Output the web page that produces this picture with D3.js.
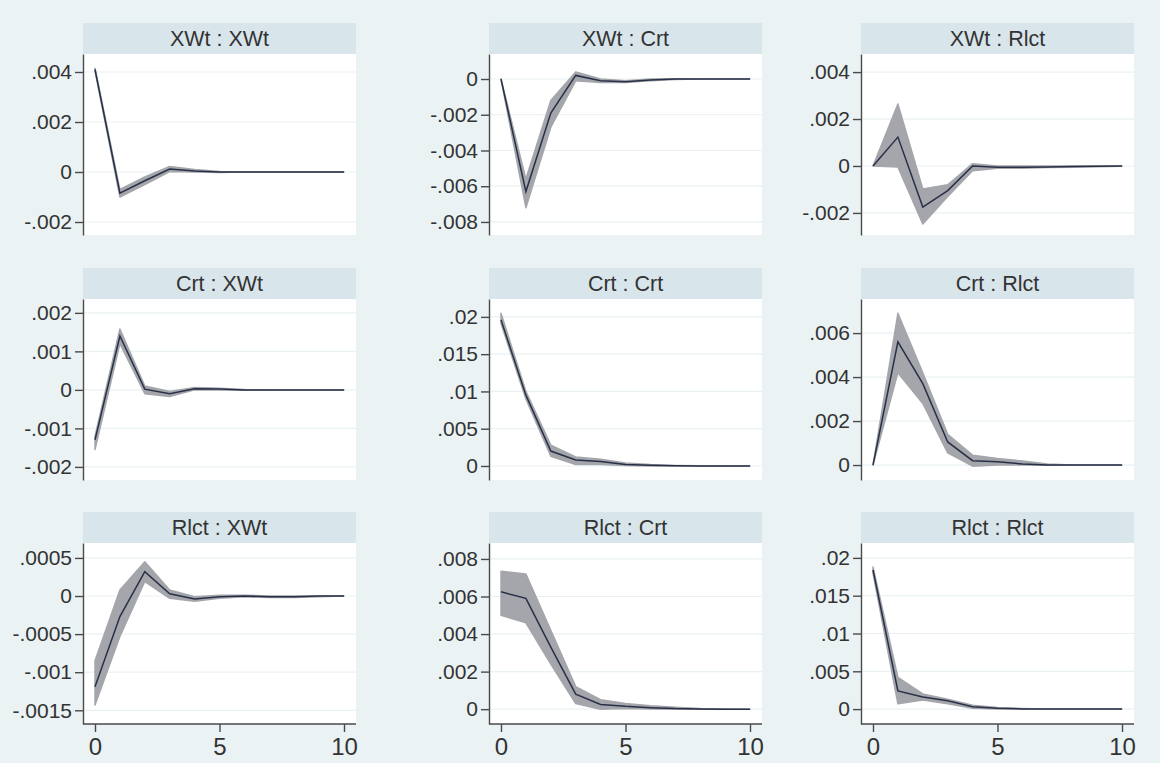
<!DOCTYPE html>
<meta charset="utf-8">
<style>
html, body {
  margin: 0;
  padding: 0;
  background: #eaf2f4; }
body {
  font-family: "Liberation Sans", Arial, Helvetica, sans-serif;
  color: #333; }

#irf {
    display: block;
    width: 1160px;
    height: 763px;
  }

  .axis text {
    font-size: 21px;
    fill: #333;
  }
  .axis path, .axis line {
    stroke: #4a4a4a;
    stroke-width: 1.4;
  }
</style>
<svg id="irf"></svg>

<script src="https://d3js.org/d3.v7.min.js"></script>
<script>
// ********** DATA **********
var steps = [0, 1, 2, 3, 4, 5, 6, 7, 8, 9, 10];
var panelTitles = ["XWt : XWt", "XWt : Crt", "XWt : Rlct",
                   "Crt : XWt", "Crt : Crt", "Crt : Rlct",
                   "Rlct : XWt", "Rlct : Crt", "Rlct : Rlct"];
var xTicks = [0, 5, 10];

// orthogonalised irf, lower and upper 95% bound, one triple per panel
var irf_XWt_XWt = [0.0041, -0.00085, -0.00035, 0.00012, 0.00004, 0, 0, 0, 0, 0, 0];
var lo_XWt_XWt  = [0.00405, -0.0010, -0.0005, 0.00002, 0, -0.00002, 0, 0, 0, 0, 0];
var hi_XWt_XWt  = [0.00415, -0.0007, -0.0002, 0.00022, 0.0001, 0.00002, 0, 0, 0, 0, 0];

var irf_XWt_Crt = [0, -0.0063, -0.0019, 0.0002, -0.0001, -0.00015, -0.00005, 0, 0, 0, 0];
var lo_XWt_Crt  = [0, -0.0072, -0.0027, -0.0001, -0.0002, -0.0002, -0.0001, -0.00003, 0, 0, 0];
var hi_XWt_Crt  = [0, -0.0056, -0.0012, 0.0004, 0, -0.0001, 0, 0.00002, 0, 0, 0];

var irf_XWt_Rlct = [0, 0.00123, -0.00175, -0.00105, 0, -0.00005, -0.00005, -0.00004, -0.00002, -0.00001, 0];
var lo_XWt_Rlct  = [0, -0.00004, -0.00247, -0.0013, -0.0002, -0.0001, -0.0001, -0.00007, -0.00005, -0.00003, -0.00001];
var hi_XWt_Rlct  = [0, 0.00264, -0.00098, -0.0008, 0.0001, 0, 0, 0, 0, 0, 0];

var irf_Crt_XWt = [-0.0013, 0.0014, 0.00002, -0.0001, 0.00003, 0.00002, 0, 0, 0, 0, 0];
var lo_Crt_XWt  = [-0.00155, 0.0012, -0.0001, -0.00017, 0, 0, -0.00001, 0, 0, 0, 0];
var hi_Crt_XWt  = [-0.0012, 0.00158, 0.0001, -0.00004, 0.00006, 0.00004, 0.00001, 0, 0, 0, 0];

var irf_Crt_Crt = [0.0196, 0.0095, 0.0020, 0.0008, 0.0006, 0.0002, 0.0001, 0.00003, 0, 0, 0];
var lo_Crt_Crt  = [0.0191, 0.0090, 0.0013, 0.0002, 0.0002, 0.00005, 0, 0, 0, 0, 0];
var hi_Crt_Crt  = [0.0205, 0.0100, 0.0028, 0.0012, 0.0009, 0.0004, 0.0002, 0.00008, 0.00002, 0, 0];

var irf_Crt_Rlct = [0, 0.0056, 0.0037, 0.00105, 0.0002, 0.00015, 0.00005, 0, 0, 0, 0];
var lo_Crt_Rlct  = [0, 0.0042, 0.0028, 0.00055, -0.00005, 0, 0, -0.00001, 0, 0, 0];
var hi_Crt_Rlct  = [0, 0.0069, 0.0042, 0.0014, 0.00045, 0.0003, 0.00018, 0.00005, 0, 0, 0];

var irf_Rlct_XWt = [-0.00119, -0.00027, 0.00032, 0.00003, -0.00004, -0.00001, 0, -0.00001, -0.00001, 0, 0];
var lo_Rlct_XWt  = [-0.00143, -0.00053, 0.00019, -0.00003, -0.00007, -0.00003, -0.00001, -0.00002, -0.00002, -0.00001, 0];
var hi_Rlct_XWt  = [-0.00085, 0.00008, 0.00045, 0.00008, -0.00001, 0.00001, 0.00001, 0, 0, 0, 0];

var irf_Rlct_Crt = [0.00625, 0.0059, 0.0033, 0.0008, 0.00025, 0.00015, 0.00008, 0.00003, 0.00001, 0, 0];
var lo_Rlct_Crt  = [0.0050, 0.0046, 0.0024, 0.0003, 0, 0.00003, 0.00001, 0, 0, 0, 0];
var hi_Rlct_Crt  = [0.00735, 0.0072, 0.0042, 0.0012, 0.0005, 0.0003, 0.00018, 0.0001, 0.00004, 0.00001, 0];

var irf_Rlct_Rlct = [0.0184, 0.0024, 0.0016, 0.0011, 0.0003, 0.0001, 0.00003, 0, 0, 0, 0];
var lo_Rlct_Rlct  = [0.0180, 0.0007, 0.0012, 0.0007, 0.0001, 0, 0, 0, 0, 0, 0];
var hi_Rlct_Rlct  = [0.0188, 0.0042, 0.0020, 0.0013, 0.0005, 0.0002, 0.00008, 0.00002, 0, 0, 0];

// y tick labels and axis range of each panel
var yTicks = [
  [-0.002, 0, 0.002, 0.004],
  [-0.008, -0.006, -0.004, -0.002, 0],
  [-0.002, 0, 0.002, 0.004],
  [-0.002, -0.001, 0, 0.001, 0.002],
  [0, 0.005, 0.01, 0.015, 0.02],
  [0, 0.002, 0.004, 0.006],
  [-0.0015, -0.001, -0.0005, 0, 0.0005],
  [0, 0.002, 0.004, 0.006, 0.008],
  [0, 0.005, 0.01, 0.015, 0.02]
];
var yRanges = [
  [-0.00252, 0.00472], [-0.00873, 0.0014], [-0.00294, 0.00477],
  [-0.00234, 0.00236], [-0.00188, 0.0224], [-0.00068, 0.00755],
  [-0.00168, 0.000696], [-0.00079, 0.00885], [-0.00197, 0.02197]
];

var irfs = [irf_XWt_XWt, irf_XWt_Crt, irf_XWt_Rlct, irf_Crt_XWt, irf_Crt_Crt, irf_Crt_Rlct, irf_Rlct_XWt, irf_Rlct_Crt, irf_Rlct_Rlct];
var lows = [lo_XWt_XWt, lo_XWt_Crt, lo_XWt_Rlct, lo_Crt_XWt, lo_Crt_Crt, lo_Crt_Rlct, lo_Rlct_XWt, lo_Rlct_Crt, lo_Rlct_Rlct];
var highs = [hi_XWt_XWt, hi_XWt_Crt, hi_XWt_Rlct, hi_Crt_XWt, hi_Crt_Crt, hi_Crt_Rlct, hi_Rlct_XWt, hi_Rlct_Crt, hi_Rlct_Rlct];

// ********** LAYOUT **********
var colLeft = [83, 489, 861],   // left edge of each plot region
  rowTop = [54, 299, 543],      // top edge of each plot region
  plotW = 273,
  plotH = 181,
  stripH = 31,
  xPad = 12;                    // gap between plot edge and step 0 / step 10

var svg = d3.select("#irf");

// Stata style labels: .004, -.002, 0
function stataFmt(v) {
  var s = d3.format("~g")(v);
  return s.replace(/^(-?)0\./, "$1.").replace("−0.", "-.").replace("−", "-");
}

panelTitles.forEach(function (title, i) {
  var col = i % 3, row = Math.floor(i / 3);
  var L = colLeft[col], T = rowTop[row];

  var x = d3.scaleLinear().domain([0, 10]).range([L + xPad, L + plotW - xPad]);
  var y = d3.scaleLinear().domain(yRanges[i]).range([T + plotH, T]);

  var g = svg.append("g");

  // strip with title
  g.append("rect")
    .attr("x", L).attr("y", T - stripH)
    .attr("width", plotW).attr("height", stripH)
    .attr("fill", "#d8e5eb");
  g.append("text")
    .attr("x", L + plotW / 2).attr("y", T - stripH / 2)
    .attr("dy", ".36em")
    .attr("text-anchor", "middle")
    .style("font-size", "21.5px")
    .style("fill", "#333")
    .text(title);

  // white plot region
  g.append("rect")
    .attr("x", L).attr("y", T)
    .attr("width", plotW).attr("height", plotH)
    .attr("fill", "#fff");

  // faint grid lines
  g.selectAll(".grid").data(yTicks[i]).enter().append("line")
    .attr("x1", L).attr("x2", L + plotW)
    .attr("y1", function (d) { return y(d); })
    .attr("y2", function (d) { return y(d); })
    .attr("stroke", "#eaf1f3")
    .attr("stroke-width", 1.2);

  var pts = steps.map(function (s, k) {
    return { s: s, v: irfs[i][k], lo: lows[i][k], hi: highs[i][k] };
  });

  // confidence band
  var band = d3.area()
    .x(function (d) { return x(d.s); })
    .y0(function (d) { return y(d.lo); })
    .y1(function (d) { return y(d.hi); });
  g.append("path")
    .datum(pts)
    .attr("d", band)
    .attr("fill", "#a4a6ab")
    .attr("stroke", "#a4a6ab")
    .attr("stroke-width", 1.5)
    .attr("stroke-linejoin", "round");

  // irf line
  var line = d3.line()
    .x(function (d) { return x(d.s); })
    .y(function (d) { return y(d.v); });
  g.append("path")
    .datum(pts)
    .attr("d", line)
    .attr("fill", "none")
    .attr("stroke", "#283048")
    .attr("stroke-width", 1.5);

  // y axis
  g.append("g")
    .attr("class", "axis")
    .attr("transform", "translate(" + L + ",0)")
    .call(d3.axisLeft(y).tickValues(yTicks[i]).tickFormat(stataFmt)
      .tickSizeInner(8).tickSizeOuter(0).tickPadding(3));

  // x axis only on the bottom row
  if (row == 2) {
    var xa = g.append("g")
      .attr("class", "axis")
      .attr("transform", "translate(0," + (T + plotH) + ")")
      .call(d3.axisBottom(x).tickValues(xTicks).tickFormat(d3.format("d"))
        .tickSizeInner(8).tickSizeOuter(0).tickPadding(6));
    xa.select(".domain").attr("d", "M" + L + ",0H" + (L + plotW));
    xa.selectAll("text").style("font-size", "24px");
  }
});
</script>
